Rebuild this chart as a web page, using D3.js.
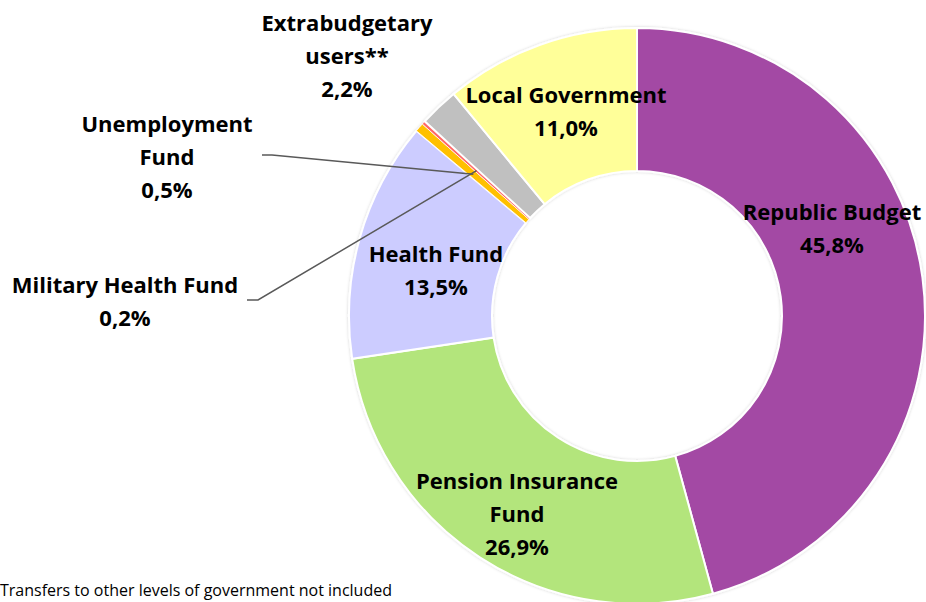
<!DOCTYPE html>
<html>
<head>
<meta charset="utf-8">
<script src="https://cdn.jsdelivr.net/npm/d3@7"></script>
<style>
	body { margin: 0; background: #fff; }
	svg { display: block; font-family: "Open Sans", Lato, sans-serif; }
</style>
</head>
<body>
<div id="chart"></div>
<script>

var categories = ["Republic Budget", "Pension Insurance Fund", "Health Fund", "Unemployment Fund", "Military Health Fund", "Extrabudgetary users**", "Local Government"];
var values = [45.8, 26.9, 13.5, 0.5, 0.2, 2.2, 11.0];
var labelLines = [["Republic Budget"], ["Pension Insurance", "Fund"], ["Health Fund"], ["Unemployment", "Fund"], ["Military Health Fund"], ["Extrabudgetary", "users**"], ["Local Government"]];
var colors = ["#A349A4", "#B3E57C", "#CCCCFF", "#FFC000", "#FF6666", "#C0C0C0", "#FFFF99"];
var footnote = "Transfers to other levels of government not included";

const width = 926, height = 602;
const cx = 637, cy = 316, R = 288, r = 145;

// label anchors (center of first line) and optional leader line elbows
var labelPos = [
	{ x: 832, y: 220 },
	{ x: 517, y: 489 },
	{ x: 436, y: 262 },
	{ x: 167, y: 132, elbow: [[262, 155], [272, 155]] },
	{ x: 125, y: 293, elbow: [[247, 300], [258, 300]] },
	{ x: 347, y: 31 },
	{ x: 566, y: 103 }
];

var svg = d3.select("#chart").append("svg")
	.attr("width", width)
	.attr("height", height);

var defs = svg.append("defs");
var f = defs.append("filter").attr("id", "shadow").attr("x", "-10%").attr("y", "-10%").attr("width", "120%").attr("height", "120%");
f.append("feDropShadow").attr("dx", 0).attr("dy", 0).attr("stdDeviation", 1.5).attr("flood-color", "#000").attr("flood-opacity", 0.18);

var pie = d3.pie().sort(null).value(d => d)(values);
var arc = d3.arc().innerRadius(r).outerRadius(R);

var g = svg.append("g").attr("transform", `translate(${cx},${cy})`);

g.append("g").attr("filter", "url(#shadow)")
	.selectAll("path")
	.data(pie)
	.join("path")
		.attr("d", arc)
		.attr("fill", (d, i) => colors[i])
		.attr("stroke", "#fff")
		.attr("stroke-width", (d, i) => values[i] < 1 ? 0.8 : 2);

// leader lines
labelPos.forEach((p, i) => {
	if (!p.elbow) return;
	var c = arc.centroid(pie[i]);
	var pts = p.elbow.concat([[cx + c[0], cy + c[1]]]);
	svg.append("path")
		.attr("d", d3.line()(pts))
		.attr("fill", "none")
		.attr("stroke", "#595959")
		.attr("stroke-width", 1.5);
});

// labels
labelPos.forEach((p, i) => {
	var lines = labelLines[i].concat([values[i].toFixed(1).replace(".", ",") + "%"]);
	var t = svg.append("text")
		.attr("text-anchor", "middle")
		.attr("font-weight", "bold")
		.attr("font-size", 22)
		.attr("fill", "#000");
	lines.forEach((s, j) => {
		t.append("tspan").attr("x", p.x).attr("y", p.y + j * 33).text(s);
	});
});

svg.append("text")
	.attr("x", 0)
	.attr("y", 596)
	.attr("font-size", 16)
	.attr("fill", "#000")
	.text(footnote);

</script>
</body>
</html>
